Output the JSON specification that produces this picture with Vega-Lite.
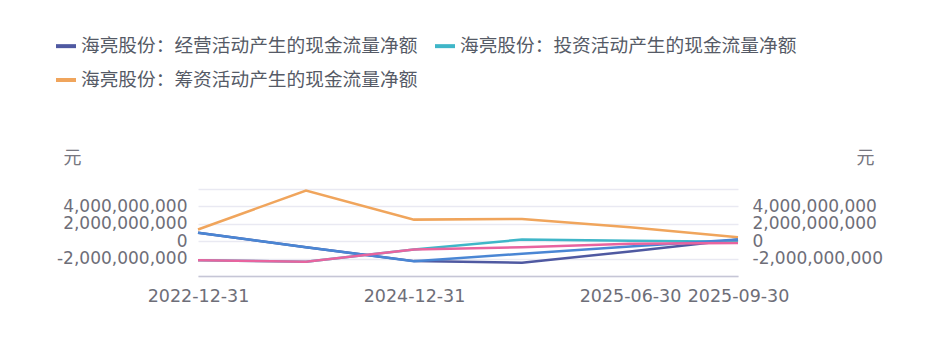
{
  "$schema": "https://vega.github.io/schema/vega-lite/v6.json",
  "width": 540,
  "height": 87,
  "autosize": {"type": "none"},
  "padding": {"left": 198, "top": 189, "right": 199, "bottom": 63},
  "config": {"view": {"stroke": null}, "font": "Noto Sans CJK SC"},
  "data": {"values": [
    {"series": "海亮股份：经营活动产生的现金流量净额", "date": "2022-12-31", "value": 960000000},
    {"series": "海亮股份：经营活动产生的现金流量净额", "date": "2023-12-31", "value": -690000000},
    {"series": "海亮股份：经营活动产生的现金流量净额", "date": "2024-12-31", "value": -2290000000},
    {"series": "海亮股份：经营活动产生的现金流量净额", "date": "2025-03-31", "value": -2470000000},
    {"series": "海亮股份：经营活动产生的现金流量净额", "date": "2025-06-30", "value": -1180000000},
    {"series": "海亮股份：经营活动产生的现金流量净额", "date": "2025-09-30", "value": 200000000},
    {"series": "海亮股份：投资活动产生的现金流量净额", "date": "2022-12-31", "value": -2200000000},
    {"series": "海亮股份：投资活动产生的现金流量净额", "date": "2023-12-31", "value": -2360000000},
    {"series": "海亮股份：投资活动产生的现金流量净额", "date": "2024-12-31", "value": -950000000},
    {"series": "海亮股份：投资活动产生的现金流量净额", "date": "2025-03-31", "value": 190000000},
    {"series": "海亮股份：投资活动产生的现金流量净额", "date": "2025-06-30", "value": 50000000},
    {"series": "海亮股份：投资活动产生的现金流量净额", "date": "2025-09-30", "value": -70000000},
    {"series": "海亮股份：筹资活动产生的现金流量净额", "date": "2022-12-31", "value": 1340000000},
    {"series": "海亮股份：筹资活动产生的现金流量净额", "date": "2023-12-31", "value": 5830000000},
    {"series": "海亮股份：筹资活动产生的现金流量净额", "date": "2024-12-31", "value": 2480000000},
    {"series": "海亮股份：筹资活动产生的现金流量净额", "date": "2025-03-31", "value": 2560000000},
    {"series": "海亮股份：筹资活动产生的现金流量净额", "date": "2025-06-30", "value": 1600000000},
    {"series": "海亮股份：筹资活动产生的现金流量净额", "date": "2025-09-30", "value": 460000000},
    {"series": "S4", "date": "2022-12-31", "value": 960000000},
    {"series": "S4", "date": "2023-12-31", "value": -690000000},
    {"series": "S4", "date": "2024-12-31", "value": -2290000000},
    {"series": "S4", "date": "2025-03-31", "value": -1440000000},
    {"series": "S4", "date": "2025-06-30", "value": -600000000},
    {"series": "S4", "date": "2025-09-30", "value": 200000000},
    {"series": "S5", "date": "2022-12-31", "value": -2200000000},
    {"series": "S5", "date": "2023-12-31", "value": -2360000000},
    {"series": "S5", "date": "2024-12-31", "value": -950000000},
    {"series": "S5", "date": "2025-03-31", "value": -690000000},
    {"series": "S5", "date": "2025-06-30", "value": -300000000},
    {"series": "S5", "date": "2025-09-30", "value": -200000000}
  ]},
  "layer": [
    {
      "mark": {"type": "line", "strokeWidth": 2.5},
      "encoding": {
        "x": {"field": "date", "type": "ordinal", "sort": null, "scale": {"type": "point", "padding": 0},
          "axis": {"title": null, "labelAngle": 0, "ticks": false, "domain": true, "domainColor": "#c6c6d6", "domainWidth": 1.5,
            "labelFont": "DejaVu Sans", "labelFontSize": 17.5, "labelColor": "#6e6e78", "labelPadding": 11, "labelOverlap": false,
            "labelExpr": "indexof(['2022-12-31','2024-12-31','2025-06-30','2025-09-30'], datum.value) >= 0 ? datum.value : ''"}},
        "y": {"field": "value", "type": "quantitative", "scale": {"domain": [-4000000000, 6000000000], "nice": false, "zero": false},
          "axis": {"orient": "left", "values": [-4000000000, -2000000000, 0, 2000000000, 4000000000, 6000000000],
            "labelExpr": "datum.value == 6000000000 || datum.value == -4000000000 ? '' : replace(format(datum.value, ','), '−', '-')",
            "labelOverlap": false, "labelBound": false,
            "ticks": false, "domain": false, "grid": true, "gridColor": "#e9e9f2", "gridWidth": 1.5,
            "labelFont": "DejaVu Sans", "labelFontSize": 17, "labelColor": "#6e6e78", "labelPadding": 11,
            "title": "元", "titleAngle": 0, "titleX": -126, "titleY": -31, "titleFontSize": 18, "titleFontWeight": "normal",
            "titleColor": "#777780", "titleAlign": "center", "titleBaseline": "middle"}},
        "color": {"field": "series", "type": "nominal", "sort": null,
          "scale": {"domain": ["海亮股份：经营活动产生的现金流量净额", "海亮股份：投资活动产生的现金流量净额", "海亮股份：筹资活动产生的现金流量净额", "S4", "S5"],
            "range": ["#4f59a1", "#3fb6c8", "#f0a55c", "#4a86d4", "#e8649f"]},
          "legend": {"orient": "none", "legendX": -144, "legendY": -155, "columns": 2, "columnPadding": 9, "rowPadding": 12,
            "title": null, "symbolType": "stroke", "symbolStrokeWidth": 4, "symbolSize": 400, "labelFontSize": 18.7,
            "labelColor": "#555a66", "labelLimit": 0, "labelOffset": 3,
            "values": ["海亮股份：经营活动产生的现金流量净额", "海亮股份：筹资活动产生的现金流量净额", "海亮股份：投资活动产生的现金流量净额"]}}
      }
    },
    {
      "mark": {"type": "line", "opacity": 0},
      "encoding": {
        "x": {"field": "date", "type": "ordinal", "sort": null, "scale": {"type": "point", "padding": 0}},
        "detail": {"field": "series"},
        "y": {"field": "value", "type": "quantitative", "scale": {"domain": [-4000000000, 6000000000], "nice": false, "zero": false},
          "axis": {"orient": "right", "values": [-4000000000, -2000000000, 0, 2000000000, 4000000000, 6000000000],
            "labelExpr": "datum.value == 6000000000 || datum.value == -4000000000 ? '' : replace(format(datum.value, ','), '−', '-')",
            "labelOverlap": false, "labelBound": false,
            "ticks": false, "domain": false, "grid": false,
            "labelFont": "DejaVu Sans", "labelFontSize": 17, "labelColor": "#6e6e78", "labelPadding": 14,
            "title": "元", "titleAngle": 0, "titleX": 127, "titleY": -31, "titleFontSize": 18, "titleFontWeight": "normal",
            "titleColor": "#777780", "titleAlign": "center", "titleBaseline": "middle"}}
      }
    }
  ],
  "resolve": {"scale": {"y": "independent"}}
}
